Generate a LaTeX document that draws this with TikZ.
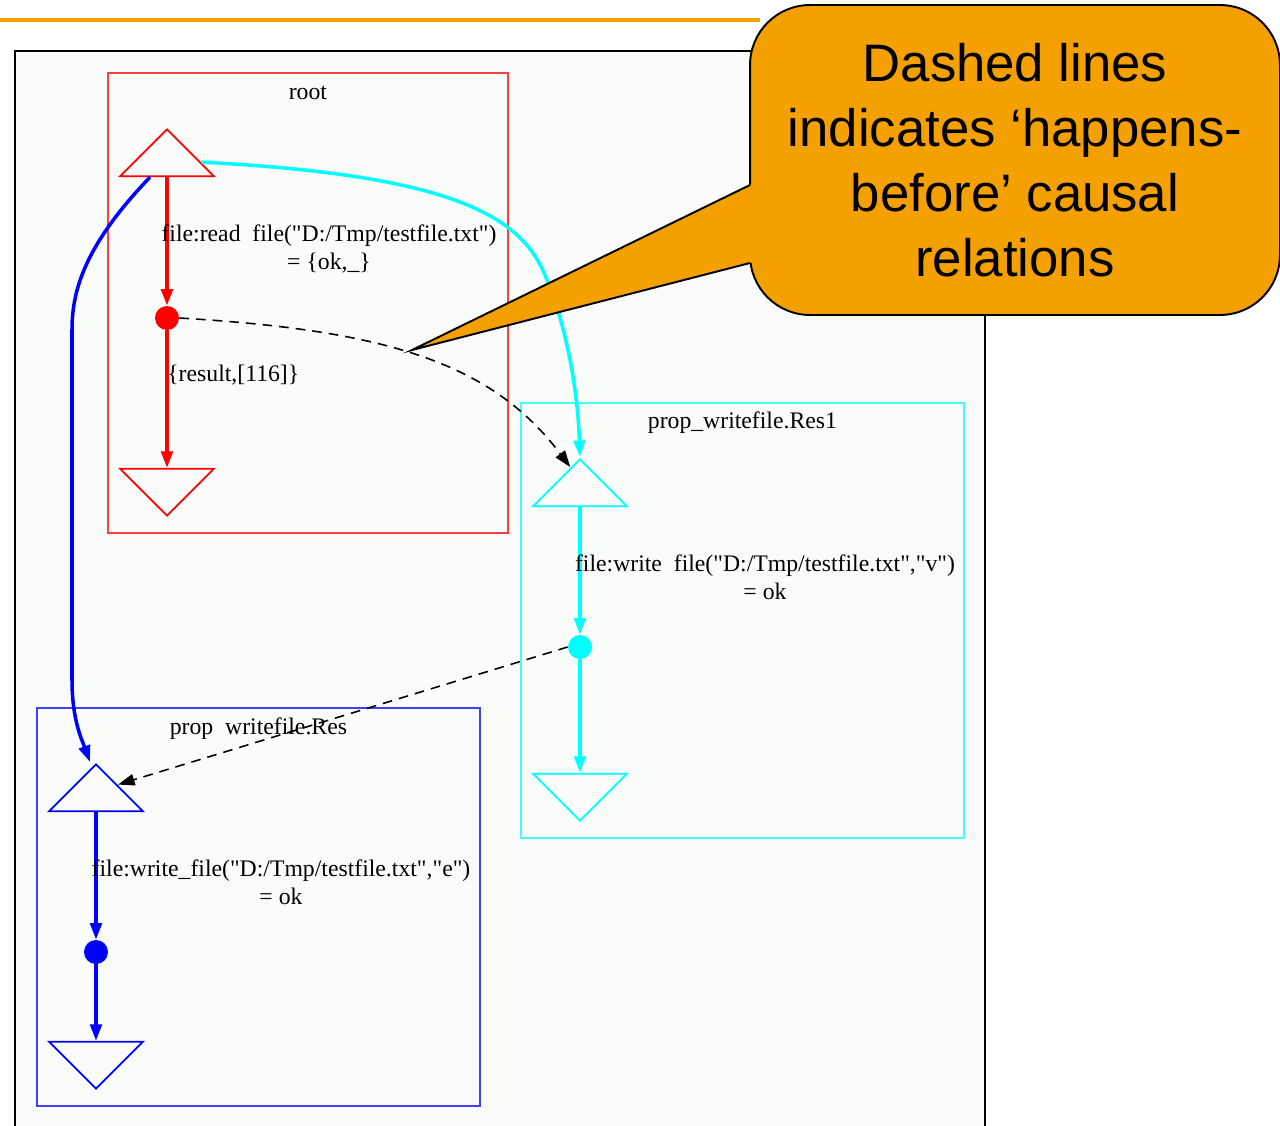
\documentclass[tikz,border=0pt]{standalone}
\usepackage{fontspec}
\setmainfont{Liberation Serif}[Ligatures=TeXOff]
\newfontfamily\calloutfont{Liberation Sans}
\usetikzlibrary{shapes.geometric,arrows.meta,calc,positioning}

\definecolor{slideorange}{RGB}{243,160,0}
\definecolor{graphbg}{RGB}{250,252,250}
\definecolor{gvred}{RGB}{255,0,0}
\definecolor{gvcyan}{RGB}{0,255,255}
\definecolor{gvblue}{RGB}{0,0,255}

\tikzset{
  tri/.style={isosceles triangle, isosceles triangle stretches, draw, line width=1pt,
    minimum width=1.88cm, minimum height=0.94cm, inner sep=0pt, anchor=apex},
  triup/.style={tri, shape border rotate=90},
  tridown/.style={tri, shape border rotate=270},
  evdot/.style={circle, inner sep=0pt, minimum size=0.48cm},
  cluster/.style={draw, line width=1.1pt, anchor=north west, inner sep=0pt},
  lbl/.style={font=\fontsize{13.5}{16}\selectfont, align=center, inner sep=0pt},
  edge/.style={line width=2pt, -{Triangle[length=0.33cm,width=0.23cm]}},
  hb/.style={line width=0.9pt, dash pattern=on 5.5pt off 4pt, -{Triangle[length=0.33cm,width=0.23cm]}},
}

\begin{document}
\begin{tikzpicture}[x=0.02cm,y=-0.02cm]
\useasboundingbox (0,0) rectangle (1280,1125);
\fill[white] (0,0) rectangle (1280,1125);

% slide rule and outer frame
\draw[slideorange, line width=1.8pt] (0,20) -- (760,20);
\draw[fill=graphbg, line width=1.1pt] (15,51) rectangle (985,1140);

% clusters
\node[cluster, draw=gvred!75, minimum width=8cm, minimum height=9.2cm] (rootbox) at (107,72) {};
\node[lbl] (roottitle) at ([yshift=-0.42cm]rootbox.north) {root};
\node[cluster, draw=gvcyan!75, minimum width=8.86cm, minimum height=8.7cm] (resbox) at (520,402) {};
\node[lbl] (restitle) at ([yshift=-0.42cm]resbox.north) {prop\_writefile.Res1};
\node[cluster, draw=gvblue!75, minimum width=8.86cm, minimum height=7.96cm] (ebox) at (36,707) {};
\node[lbl] (etitle) at ([yshift=-0.44cm]ebox.north) {prop\ \ writefile.Res};

% root process
\node[triup, draw=gvred] (rootS) at (167,127) {};
\node[evdot, fill=gvred] (rdot) at (167,318) {};
\node[tridown, draw=gvred] (rootE) at (167,518) {};
\draw[edge, gvred] (rootS.lower side) -- (rdot);
\draw[edge, gvred] (rdot) -- (rootE.lower side);
\node[lbl] (lbread) at (329,249) {file:read\ \ file("D:/Tmp/testfile.txt")\\= \{ok,\_\}};
\node[lbl, anchor=west] (lbresult) at (167,375) {\{result,[116]\}};

% prop_writefile.Res1
\node[triup, draw=gvcyan] (rS) at (580,457) {};
\node[evdot, fill=gvcyan] (cdot) at (580,647) {};
\node[tridown, draw=gvcyan] (rE) at (580,823) {};
\draw[edge, gvcyan] (rS.lower side) -- (cdot);
\draw[edge, gvcyan] (cdot) -- (rE.lower side);
\node[lbl] (lbwritev) at (765,577) {file:write\ \ file("D:/Tmp/testfile.txt","v")\\= ok};

% prop_writefile.Res
\node[triup, draw=gvblue] (eS) at (96,762) {};
\node[evdot, fill=gvblue] (bdot) at (96,952) {};
\node[tridown, draw=gvblue] (eE) at (96,1091) {};
\draw[edge, gvblue] (eS.lower side) -- (bdot);
\draw[edge, gvblue] (bdot) -- (eE.lower side);
\node[lbl] (lbwritee) at (281,882) {file:write\_file("D:/Tmp/testfile.txt","e")\\= ok};

% spawn edges
\draw[edge, gvblue] ([xshift=-0.34cm]rootS.lower side) .. controls (85,245) and (72,290) .. (72,330)
  -- (72,680) .. controls (72,720) and (82,740) .. ([xshift=-0.12cm]eS.apex);
\draw[edge, gvcyan] ($(rootS.apex)!0.7!(rootS.right corner)$) .. controls (450,175) and (520,215) .. (545,275)
  .. controls (570,335) and (578,400) .. (rS.apex);

% happens-before
\draw[hb] (rdot.east) .. controls (380,330) and (490,360) .. ($(rS.apex)!0.2!(rS.left corner)$);
\draw[hb] (cdot.west) -- ($(eS.apex)!0.45!(eS.right corner)$);

% callout
\node[draw, fill=slideorange, line width=1.1pt, rounded corners=1.2cm, minimum width=10.6cm,
  minimum height=6.2cm, align=center, font=\calloutfont\fontsize{30}{37}\selectfont] (note) at (1015,160)
  {Dashed lines\\indicates ‘happens-\\before’ causal\\relations};
\coordinate (tip) at (412,350);
\fill[slideorange] (tip) -- (756,182) -- (756,261.5) -- cycle;
\draw[line width=1.1pt] (750,185) -- (tip) -- (750,263);
\end{tikzpicture}
\end{document}
